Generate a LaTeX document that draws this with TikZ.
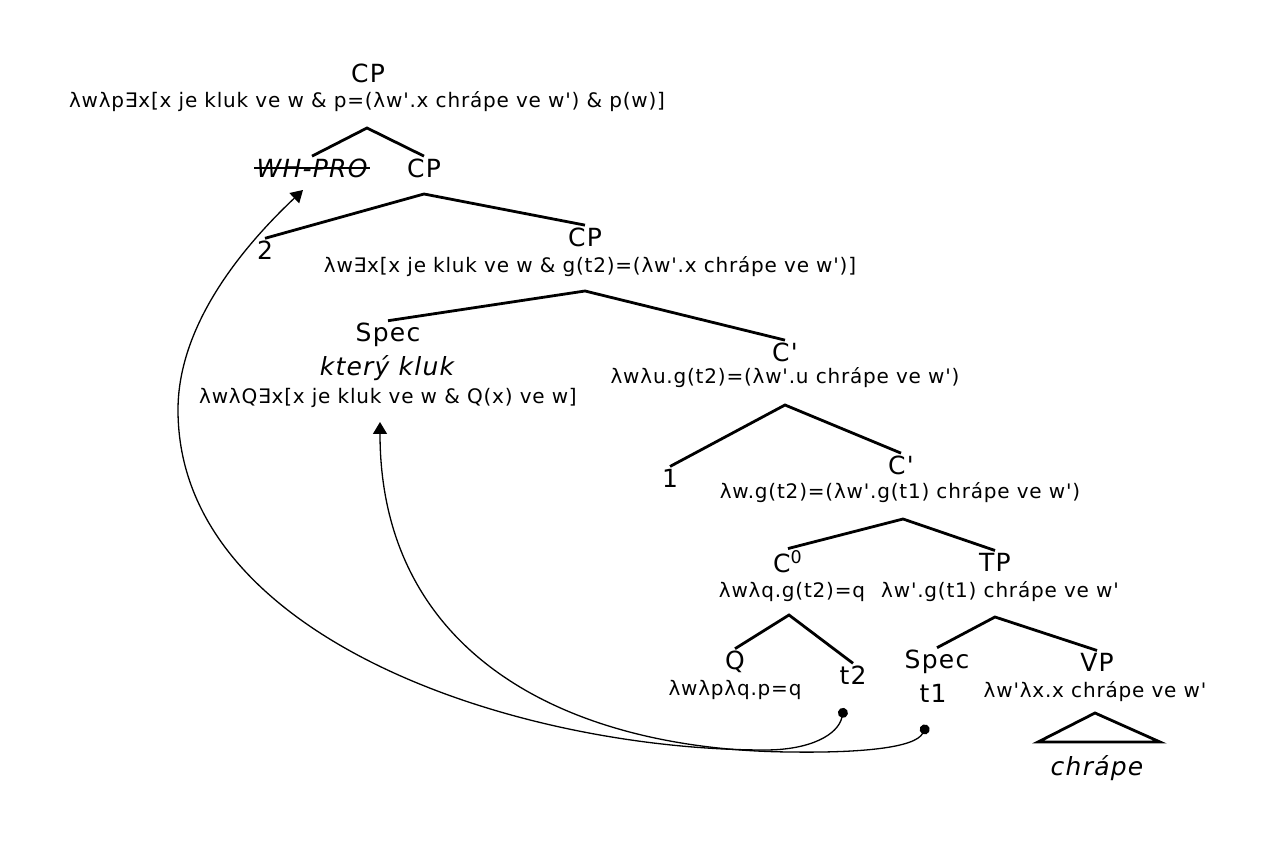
\documentclass[tikz,border=0pt]{standalone}
\usepackage{fontspec}
\setmainfont{DejaVu Sans}[Ligatures=TeXOff]
\newfontfamily\lblfont{DejaVu Sans}[Ligatures=TeXOff, LetterSpace=5]
\newfontfamily\fmlfont{DejaVu Sans}[Ligatures=TeXOff, LetterSpace=4]
\usetikzlibrary{arrows.meta}

\newcommand{\lblsize}{\lblfont\fontsize{12.5}{14}\selectfont}
\newcommand{\fmlsize}{\fmlfont\fontsize{10}{12}\selectfont}

\begin{document}
\begin{tikzpicture}[
    x=0.5pt, y=-0.5pt,
    lbl/.style={font=\lblsize, inner sep=1pt},
    fml/.style={font=\fmlsize, inner sep=1pt},
    branch/.style={line width=1.4pt},
    move/.style={line width=0.65pt, {Circle[length=5pt]}-{Triangle[length=6pt,width=7pt]}},
]
\useasboundingbox (0,0) rectangle (1263,854);

% =========================================================
% 1. Top CP
% =========================================================
\node[lbl] (cp0) at (368,73) {CP};
\node[fml] (cp0f) at (367,102) {λwλp∃x[x je kluk ve w \& p=(λw'.x chrápe ve w') \& p(w)]};
\coordinate (a0) at (367,128);

\node[lbl] (wh) at (312,168) {\itshape WH-PRO};
\draw[line width=1.1pt] (wh.west) -- (wh.east); % crossed out
\node[lbl] (cp1) at (424,168) {CP};
\draw[branch] (wh.north) -- (a0) -- (cp1.north);

% =========================================================
% 2. Index 2 and lower CP
% =========================================================
\coordinate (a1) at (424,194);
\node[lbl] (i2) at (265,250) {2};
\node[lbl] (cp2) at (585,237) {CP};
\node[fml] (cp2f) at (590,267) {λw∃x[x je kluk ve w \& g(t2)=(λw'.x chrápe ve w')]};
\draw[branch] (i2.north) -- (a1) -- (cp2.north);

% =========================================================
% 3. Spec (ktery kluk) and C'
% =========================================================
\coordinate (a2) at (585,291);
\node[lbl] (spec1) at (388,335) {Spec};
\node[lbl, font=\lblsize\itshape] (kk) at (387,368) {který kluk};
\node[fml] (kkf) at (388,398) {λwλQ∃x[x je kluk ve w \& Q(x) ve w]};
\node[lbl] (cb1) at (785,352) {C'};
\node[fml] (cb1f) at (785,378) {λwλu.g(t2)=(λw'.u chrápe ve w')};
\draw[branch] (spec1.north) -- (a2) -- (cb1.north);

% =========================================================
% 4. Index 1 and C'
% =========================================================
\coordinate (a3) at (785,405);
\node[lbl] (i1) at (670,478) {1};
\node[lbl] (cb2) at (901,465) {C'};
\node[fml] (cb2f) at (900,493) {λw.g(t2)=(λw'.g(t1) chrápe ve w')};
\draw[branch] (i1.north) -- (a3) -- (cb2.north);

% =========================================================
% 5. C0 and TP
% =========================================================
\coordinate (a4) at (903,519);
\node[lbl] (c0) at (788,562) {C\textsuperscript{0}};
\node[fml] (c0f) at (792,592) {λwλq.g(t2)=q};
\node[lbl] (tp) at (995,562) {TP};
\node[fml] (tpf) at (1000,592) {λw'.g(t1) chrápe ve w'};
\draw[branch] (c0.north) -- (a4) -- (tp.north);

% Q and trace t2
\coordinate (a5) at (789,615);
\node[lbl] (q) at (735,662) {Q};
\node[fml] (qf) at (735,690) {λwλpλq.p=q};
\node[lbl] (t2) at (853,675) {t2};
\draw[branch] (q.north) -- (a5) -- (t2.north);

% Spec t1 and VP
\coordinate (a6) at (995,617);
\node[lbl] (spec2) at (937,662) {Spec};
\node[lbl] (t1) at (933,693) {t1};
\node[lbl] (vp) at (1097,662) {VP};
\node[fml] (vpf) at (1095,692) {λw'λx.x chrápe ve w'};
\draw[branch] (spec2.north) -- (a6) -- (vp.north);

% triangle over the verb
\coordinate (a7) at (1095,713);
\node[lbl, font=\lblsize\itshape] (chr) at (1097,768) {chrápe};
\draw[branch] (a7) -- ++(-57,29) -- ++(122,0) -- cycle;

% =========================================================
% 6. Movement arrows
% =========================================================
\coordinate (t2d) at (844,708);
\coordinate (t1d) at (927,725);
\coordinate (whtip) at (303,190);
\coordinate (kktip) at (380,422);

% t2 -> WH-PRO
\draw[move] (t2d) .. controls (838,735) and (810,750) .. (765,750)
    .. controls (520,750) and (178,640) .. (178,410)
    .. controls (178,320) and (250,240) .. (whtip);
% t1 -> ktery kluk
\draw[move] (t1d) .. controls (915,748) and (860,753) .. (790,752)
    .. controls (560,750) and (380,650) .. (kktip);

\end{tikzpicture}
\end{document}
